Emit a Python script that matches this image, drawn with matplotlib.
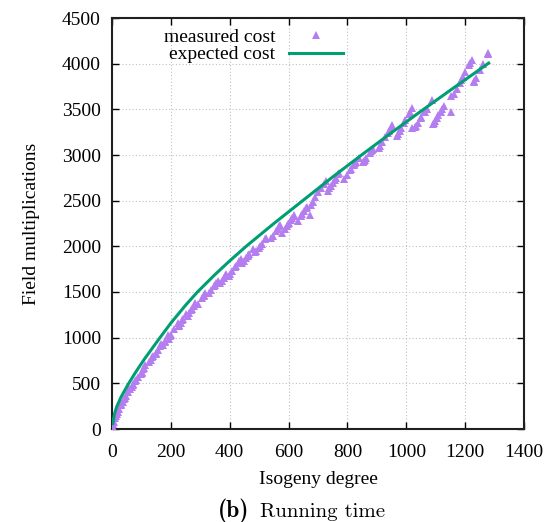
import matplotlib
matplotlib.use("Agg")
import matplotlib.pyplot as plt

# isogeny degrees (odd primes) and measured field multiplications
degrees = [3, 5, 7, 11, 13, 17, 19, 23, 29, 31, 37, 41, 43, 47, 53, 59, 61, 67, 71, 73, 79, 83, 89, 97,
           101, 103, 107, 109, 113, 127, 131, 137, 139, 149, 151, 157, 163, 167, 173, 179, 181, 191, 193, 197, 199,
           211, 223, 227, 229, 233, 239, 241, 251, 257, 263, 269, 271, 277, 281, 283, 293,
           307, 311, 313, 317, 331, 337, 347, 349, 353, 359, 367, 373, 379, 383, 389, 397,
           401, 409, 419, 421, 431, 433, 439, 443, 449, 457, 461, 463, 467, 479, 487, 491, 499,
           503, 509, 521, 523, 541, 547, 557, 563, 569, 571, 577, 587, 593, 599,
           601, 607, 613, 617, 619, 631, 641, 643, 647, 653, 659, 661, 673, 677, 683, 691,
           701, 709, 719, 727, 733, 739, 743, 751, 757, 761, 769, 773, 787, 797,
           809, 811, 821, 823, 827, 829, 839, 853, 857, 859, 863, 877, 881, 883, 887,
           907, 911, 919, 929, 937, 941, 947, 953, 967, 971, 977, 983, 991, 997,
           1009, 1013, 1019, 1021, 1031, 1033, 1039, 1049, 1051, 1061, 1063, 1069, 1087, 1091, 1093, 1097,
           1103, 1109, 1117, 1123, 1129, 1151, 1153, 1163, 1171, 1181, 1187, 1193,
           1201, 1213, 1217, 1223, 1229, 1231, 1237, 1249, 1259, 1277, 1279]
measured = [25, 50, 80, 117, 143, 166, 186, 219, 268, 271, 296, 324, 340, 366, 406, 441, 436, 457, 481, 494, 530, 534, 569, 597,
            611, 626, 655, 672, 698, 730, 754, 790, 803, 818, 830, 868, 905, 932, 918, 956, 968, 1033, 990, 1022, 1034,
            1098, 1165, 1125, 1136, 1159, 1192, 1205, 1264, 1240, 1272, 1303, 1314, 1347, 1367, 1377, 1364,
            1433, 1454, 1465, 1485, 1490, 1520, 1569, 1580, 1598, 1623, 1597, 1625, 1653, 1672, 1700, 1672,
            1694, 1729, 1773, 1783, 1826, 1835, 1862, 1813, 1840, 1876, 1894, 1902, 1920, 1972, 1933, 1950, 1987,
            2005, 2031, 2085, 2093, 2086, 2117, 2163, 2193, 2220, 2232, 2149, 2194, 2222, 2250,
            2260, 2287, 2315, 2333, 2342, 2277, 2327, 2337, 2357, 2388, 2418, 2428, 2344, 2454, 2489, 2535,
            2590, 2635, 2681, 2716, 2607, 2637, 2657, 2697, 2727, 2747, 2787, 2806, 2736, 2780,
            2835, 2844, 2889, 2899, 2917, 2926, 2970, 2921, 2939, 2948, 2965, 3027, 3044, 3053, 3071,
            3080, 3101, 3144, 3199, 3242, 3263, 3296, 3328, 3206, 3229, 3264, 3300, 3346, 3381,
            3452, 3475, 3510, 3292, 3312, 3322, 3353, 3405, 3415, 3466, 3476, 3507, 3599, 3343, 3352, 3373,
            3404, 3435, 3476, 3507, 3538, 3649, 3467, 3673, 3722, 3784, 3820, 3857,
            3907, 3980, 4006, 4042, 3797, 3809, 3848, 3926, 3991, 4108, 4122]

# expected cost curve
expected_x = [3, 8, 16, 30, 55, 80, 110, 163, 200, 250, 290, 350, 400, 458,
              550, 650, 750, 850, 950, 1050, 1150, 1280]
expected_y = [60, 160, 244, 345, 490, 620, 765, 1000, 1160, 1355, 1499, 1691, 1841, 2006,
              2250, 2505, 2760, 3005, 3245, 3480, 3710, 4006]

xticks = [0, 200, 400, 600, 800, 1000, 1200, 1400]
yticks = [0, 500, 1000, 1500, 2000, 2500, 3000, 3500, 4000, 4500]

serif = ["Liberation Serif", "DejaVu Serif"]

fig = plt.figure(figsize=(5.49, 5.22), dpi=100)
ax = fig.add_axes([112 / 549, 93 / 522, 412 / 549, 411 / 522])

ax.plot(degrees, measured, linestyle="none", marker="^", markersize=6,
        color="#b57ef0", markeredgewidth=0, label="measured cost", zorder=3)
ax.plot(expected_x, expected_y, color="#009e73", linewidth=2.2,
        label="expected cost", zorder=4)

ax.set_xlim(0, 1400)
ax.set_ylim(0, 4500)
ax.set_xticks(xticks)
ax.set_yticks(yticks)
ax.grid(True, color="#c0c0c0", linestyle=(0, (1, 2)), linewidth=0.8)
ax.tick_params(direction="in", length=5, width=1, top=True, right=True,
               labelsize=14)
ax.tick_params(axis="x", pad=11)
ax.tick_params(axis="y", pad=8)
for lab in ax.get_xticklabels() + ax.get_yticklabels():
    lab.set_family(serif)
for sp in ax.spines.values():
    sp.set_linewidth(1.5)
    sp.set_color("#202020")

ax.set_xlabel("Isogeny degree", family=serif, fontsize=14, labelpad=7)
ax.set_ylabel("Field multiplications", family=serif, fontsize=14, labelpad=16)

leg = ax.legend(loc="upper left", bbox_to_anchor=(0.125, 0.975), frameon=False,
                markerfirst=False, handlelength=2.8, handletextpad=0.7,
                labelspacing=0.0, borderpad=0, borderaxespad=0,
                prop={"family": serif, "size": 14})

fig.text(0.397, 0.010, "(b)", family="cmb10", fontsize=17, ha="left", va="baseline")
fig.text(0.473, 0.010, "Running time", family="cmr10", fontsize=15, ha="left", va="baseline")

fig.savefig("out.png", dpi=100)
